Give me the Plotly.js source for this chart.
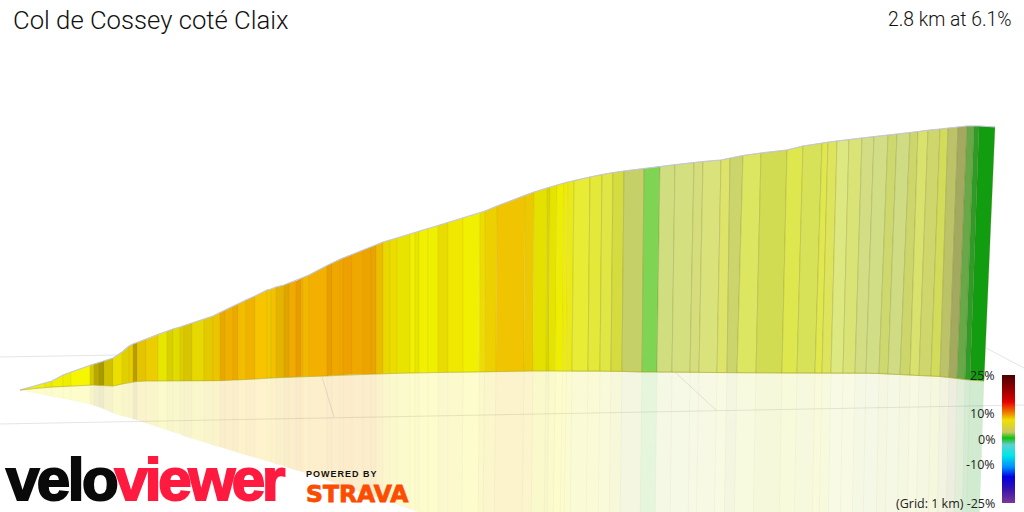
<!DOCTYPE html>
<html>
<head>
<meta charset="utf-8">
<script src="https://cdn.plot.ly/plotly-3.0.1.min.js"></script>
<style>html,body{margin:0;padding:0;background:#fff}#chart{width:1024px;height:512px}</style>
</head>
<body>
<div id="chart"></div>
<script>
const titleText = "Col de Cossey coté Claix";
const summaryText = "2.8 km at 6.1%";
const gridNote = "(Grid: 1 km) -25%";
const legendLabels = ["25%", "10%", "0%", "-10%"];
const legendLabelY = [375, 413, 439, 464];

const ridgeX = [20,45,52,63,71,90,94,99,104,113,122,129,133,137,146,158,167,173,180,184,192,204,213,220,225,233,238,246,255,267,271,276,284,289,296,301,303,309,327,332,340,343,352,363,371,376,383,390,397,410,415,419,428,438,448,463,480,485,497,525,534,547,550,557,564,568,574,590,602,613,624,644,660,675,694,703,721,730,743,761,787,803,822,828,837,849,862,874,888,897,910,918,928,940,948,958,967,974,979,995];
const ridgeY = [390,383,381,375,372,365,364,362.5,361,358,352,346,344,342.5,339,334,331,329,327,325.5,323,319,316,312.5,310,306,304,300,296,290,289,287,285,283,281,278.5,277.5,275,265.5,263,259,258,254.5,250,247,245,242,240,238,234,232.5,231,228.5,225.5,222.5,218,213,211,206,195,192,188,187,185,183,182,180.5,177,174.5,172.5,171,168.5,166.5,164.5,162.5,161.5,160,158,155.5,153,150,146,143,142,141,139.5,138,136.5,135,134,132.5,131.5,130,129,128,127,126,126,126,127];
const baseX = [20,45,52,63,71,90,94,99,104,113,122,129,133,137,146,158,167,173,180,184,192,204,213,220,225,233,238,246,255,267,271,276,284,289,296,301,303,309,327,332,340,343,352,363,371,376,383,390,397,410,415,419,428,438,448,463,479.5,484.5,496,524,533,546,549,555.5,562.5,566.5,572,588,600,611,622,642,657,672,690,699,717,727,737,756,782,797,815,822,831,843,855,866,879,888,900,910,919,931,940,949,957,965,970,984];
const baseY = [390,387.3,387,386.5,386,385,385,385.5,385.5,386,384,382.5,382,381.5,381,381,381,381,381,381,381,381,381,380.8,380.5,380,380,379.5,379,378,378,377.8,377.5,377.3,377,376.8,376.7,376.5,376,375.6,375,374.9,374.6,374.3,374,373.9,373.7,373.5,373.3,373,372.9,372.8,372.6,372.5,372.3,372.2,372,371.9,371.7,371.2,371,371,371,371,371,371,371,371,371,371.2,371.4,372,372,372,372.2,372.3,372.5,372.6,372.7,372.8,373,373,373,373,373,373,373,373,373.5,374,374.5,375,375.5,376,376.5,377.5,378.5,379.5,380,381];
const mirrorX = [20,45,52,63,71,90,94,99,104,113,122,129,133,137,146,158,167,173,180,184,192,204,213,220,225,233,238,246,255,267,271,276,284,289,296,301,303,309,327,332,340,343,352,363,371,376,383,390,397,410,415,419,428,438,448,462,478,483,494,522,531,544,547,553,560,564,570,586,598,609,620,640,655,670,688,696,714,724,734,753,779,794,812,819,828,840,852,863,876,885,897,907,916,928,937,946,954,962,966,979];
const mirrorY = [390,395,396.5,398.5,400,404,405.5,407,409,413,416,417.5,419,420,423,427,430,432,434,436,438.5,442,445,447,448.5,451,452.5,455,457.5,461,462,464,466,468,470,471.5,472,474,480,482,485,486,489,493,495.5,497,500,502,504.5,509,510.5,512,515,518,521,530,530,530,530,530,530,530,530,530,530,530,530,530,530,530,530,530,530,530,530,530,530,530,530,530,530,530,530,530,530,530,530,530,530,530,530,530,530,530,530,530,530,530,530,530];
const segColors = ["#f0f000","#ecec00","#f0f000","#eeee00","#f6f600","#d8c800","#b8a800","#a89a00","#d0c000","#ecdf00","#e0d000","#e8cc00","#b89c00","#e4c400","#ecce00","#e6e600","#d8d000","#e0dc00","#dccc00","#d8c400","#e6d800","#e4c800","#ecc400","#e8a800","#f0b000","#ecaa00","#f4bc00","#f0b400","#f8c400","#f0c800","#f4c000","#e4b400","#e0a400","#f0aa00","#e89c00","#f4b000","#f0b800","#f4b000","#e89e00","#f0a800","#f0a800","#eea000","#f0a800","#eea400","#e8a400","#ecbc00","#e8d800","#ecdc00","#e8e400","#f0f000","#e6e600","#f0f000","#eef000","#e8dc00","#f0e800","#f0f000","#ecdc00","#ecd000","#f0c400","#ecc800","#e4e000","#d8d400","#e4e400","#eeee00","#ecec10","#eaea18","#e8ec34","#e4e838","#e0e644","#d4dc40","#c6d068","#80d454","#d0de80","#d4e080","#d6dd7c","#dae27c","#dee46a","#ccd46c","#dce660","#d2dc52","#dee84e","#d8e258","#e0e84e","#dee55c","#dde880","#dae476","#d2dd84","#d2de86","#cdd86e","#d0dc84","#cdd66a","#d8e26c","#cfd66c","#d2dc5a","#bcc268","#a3aa60","#68a848","#2f9c2a","#129c10"];

const gridLinesX = [[0,117],[0,1024],[322,334],[676,717],[986,1024]];
const gridLinesY = [[357,355],[424,405],[377,417],[373,411],[348,368]];

const scaleGrades = [25,16.4,14.5,10.2,7.4,2.7,0.4,-2.3,-6.3,-10.9,-14.8,-19.1,-25];
const scaleColors = ["#4a0000","#c00000","#e80000","#f08000","#f0e000","#c8c860","#10c010","#60d0d0","#00e8e8","#0090ff","#0000e0","#3010b0","#7a3898"];

function hexToRgba(hex, a){
  const n = parseInt(hex.slice(1),16);
  return "rgba("+(n>>16)+","+((n>>8)&255)+","+(n&255)+","+a+")";
}

const traces = [];
gridLinesX.forEach((xs,i)=>traces.push({type:"scatter",mode:"lines",x:xs,y:gridLinesY[i],line:{color:"#e4e4ea",width:1},hoverinfo:"skip"}));

segColors.forEach((c,i)=>{
  traces.push({type:"scatter",mode:"lines",fill:"toself",fillcolor:hexToRgba(c,0.2),
    x:[baseX[i],baseX[i+1],mirrorX[i+1],mirrorX[i],baseX[i]],
    y:[baseY[i],baseY[i+1],mirrorY[i+1],mirrorY[i],baseY[i]],
    line:{color:"rgba(130,130,90,0.05)",width:0.6},hoverinfo:"skip"});
});
segColors.forEach((c,i)=>{
  traces.push({type:"scatter",mode:"lines",fill:"toself",fillcolor:c,
    x:[ridgeX[i],ridgeX[i+1],baseX[i+1],baseX[i],ridgeX[i]],
    y:[ridgeY[i],ridgeY[i+1],baseY[i+1],baseY[i],ridgeY[i]],
    line:{color:i<66?"rgba(130,110,0,0.1)":"rgba(110,110,30,0.3)",width:0.7},hoverinfo:"skip"});
});
traces.push({type:"scatter",mode:"lines",x:ridgeX,y:ridgeY,line:{color:"#c6c6dc",width:1.2},hoverinfo:"skip"});
traces.push({type:"scatter",mode:"lines",x:baseX,y:baseY,line:{color:"rgba(180,180,30,0.6)",width:1},hoverinfo:"skip"});

const zMin = scaleGrades[scaleGrades.length-1], zMax = scaleGrades[0];
const stops = scaleGrades.map((g,i)=>[(g-zMin)/(zMax-zMin),scaleColors[i]]).reverse();
traces.push({type:"heatmap",x:[2000,2001],y:[2000,2001],z:[[zMin,zMax],[zMin,zMax]],colorscale:stops,zmin:zMin,zmax:zMax,hoverinfo:"skip",
  showscale:true,
  colorbar:{x:1002/1024,xanchor:"left",xref:"paper",y:1-375/512,yanchor:"top",yref:"paper",len:128/512,lenmode:"fraction",thickness:13,thicknessmode:"pixels",xpad:0,ypad:0,outlinewidth:0,ticks:"",showticklabels:false,borderwidth:0}});

const sansLabel = {family:"Open Sans, Noto Sans, sans-serif",size:12.5,color:"#222"};
const annotations = [
  {text:summaryText,x:1012,y:19,xanchor:"right",yanchor:"middle",font:{family:"Roboto, sans-serif",size:19.3,color:"#111",weight:300}},
  {text:gridNote,x:996,y:503,xanchor:"right",yanchor:"middle",font:sansLabel},
  {text:"velo",x:0,y:479,xanchor:"left",yanchor:"middle",font:{family:"Liberation Sans, sans-serif",size:60,weight:700,color:"#0a0a0a"}},
  {text:"viewer",x:104,y:479,xanchor:"left",yanchor:"middle",font:{family:"Liberation Sans, sans-serif",size:60,weight:700,color:"#ff1a40"}},
  {text:"POWERED BY",x:309.5,y:474,xanchor:"left",yanchor:"middle",font:{family:"Liberation Sans, sans-serif",size:9,weight:700,color:"#111"}},
  {text:"STRAVA",x:305,y:494,xanchor:"left",yanchor:"middle",font:{family:"DejaVu Sans, sans-serif",size:23.5,weight:700,color:"#fc4c02"}}
];
legendLabels.forEach((t,i)=>annotations.push({text:t,x:996,y:legendLabelY[i],xanchor:"right",yanchor:"middle",font:sansLabel}));
annotations.forEach(a=>{a.showarrow=false;a.xref="x";a.yref="y";a.borderpad=0;});

const layout = {
  width:1024,height:512,margin:{l:0,r:0,t:0,b:0,autoexpand:false},showlegend:false,
  paper_bgcolor:"#fff",plot_bgcolor:"#fff",
  title:{text:titleText,x:13/1024,xanchor:"left",y:1-20/512,yanchor:"middle",xref:"paper",yref:"paper",pad:{t:0,b:0,l:0,r:0},font:{family:"Roboto, sans-serif",size:25.7,color:"#111",weight:300}},
  xaxis:{range:[0,1024],visible:false,fixedrange:true},
  yaxis:{range:[512,0],visible:false,fixedrange:true},
  annotations
};
Plotly.newPlot("chart",traces,layout,{displayModeBar:false,staticPlot:true}).then(()=>{
  document.querySelectorAll(".annotation-text").forEach(t=>{
    const s=t.textContent;
    if(s==="velo"){t.style.letterSpacing="-2.5px";t.style.stroke=t.style.fill;t.style.strokeWidth="2px";}
    if(s==="viewer"){t.style.letterSpacing="-3.2px";t.style.stroke=t.style.fill;t.style.strokeWidth="2px";}
    if(s==="POWERED BY"){t.style.letterSpacing="1px";}
    if(s==="STRAVA"){t.style.stroke=t.style.fill;t.style.strokeWidth="0.8px";}
  });
});
</script>
</body>
</html>
